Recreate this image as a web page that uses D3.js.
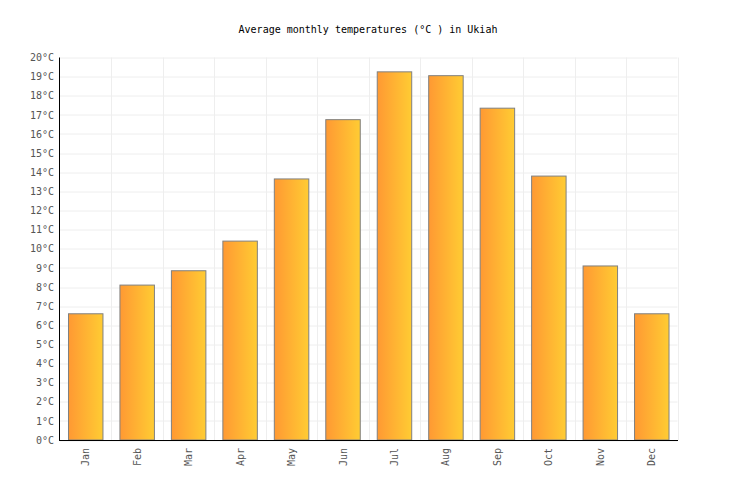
<!DOCTYPE html>
<html>
<head>
<meta charset="utf-8">
<script src="https://cdn.jsdelivr.net/npm/d3@7"></script>
<style>
  body { margin: 0; background: #fff; }
  text { font-family: "DejaVu Sans Mono", monospace; }
</style>
</head>
<body>
<div id="chart"></div>
<script>
// chart data
const months = ["Jan", "Feb", "Mar", "Apr", "May", "Jun", "Jul", "Aug", "Sep", "Oct", "Nov", "Dec"];
const temps = [6.6, 8.1, 8.85, 10.4, 13.65, 16.75, 19.25, 19.05, 17.35, 13.8, 9.1, 6.6];
const yTicks = d3.range(0, 21, 1);
const titleText = "Average monthly temperatures (°C ) in Ukiah";

const width = 736, height = 500;
const margin = { top: 57.5, right: 58.5, bottom: 60, left: 60 };
const innerWidth = width - margin.left - margin.right;
const innerHeight = height - margin.top - margin.bottom;

const svg = d3.select("#chart")
  .append("svg")
    .attr("width", width)
    .attr("height", height);

// gradient for bars
const grad = svg.append("defs")
  .append("linearGradient")
    .attr("id", "barGrad")
    .attr("x1", "0%").attr("x2", "100%")
    .attr("y1", "0%").attr("y2", "0%");
grad.append("stop").attr("offset", "0%").attr("stop-color", "#ff9933");
grad.append("stop").attr("offset", "100%").attr("stop-color", "#ffcc33");

svg.append("text")
  .text(titleText)
  .attr("x", width / 2)
  .attr("y", 33)
  .attr("text-anchor", "middle")
  .attr("font-size", 10)
  .attr("fill", "#000");

const innerChart = svg.append("g")
  .attr("transform", `translate(${margin.left}, ${margin.top})`);

/* scales */
const xScale = d3.scaleBand()
  .domain(months)
  .range([0, innerWidth])
  .paddingInner(0.33)
  .paddingOuter(0.165);

const bandScale = d3.scaleBand()
  .domain(months)
  .range([0, innerWidth]);

const yScale = d3.scaleLinear()
  .domain([0, 20])
  .range([innerHeight, 0]);

/* grid */
innerChart.append("g")
  .selectAll("line.h")
  .data(yTicks)
  .join("line")
    .attr("x1", 0)
    .attr("x2", innerWidth)
    .attr("y1", d => Math.round(yScale(d)) + 0.5)
    .attr("y2", d => Math.round(yScale(d)) + 0.5)
    .attr("stroke", "#eeeeee");

innerChart.append("g")
  .selectAll("line.v")
  .data(months)
  .join("line")
    .attr("x1", d => Math.round(bandScale(d) + bandScale.bandwidth()) + 0.5)
    .attr("x2", d => Math.round(bandScale(d) + bandScale.bandwidth()) + 0.5)
    .attr("y1", 0)
    .attr("y2", innerHeight)
    .attr("stroke", "#eeeeee");

/* bars */
innerChart.selectAll("rect.bar")
  .data(temps)
  .join("rect")
    .attr("class", "bar")
    .attr("x", (d, i) => xScale(months[i]))
    .attr("y", d => yScale(d))
    .attr("width", xScale.bandwidth())
    .attr("height", d => innerHeight - yScale(d))
    .attr("fill", "url(#barGrad)")
    .attr("stroke", "#808080")
    .attr("stroke-width", 1);

/* axes */
const leftAxis = d3.axisLeft(yScale)
  .tickValues(yTicks)
  .tickSize(0)
  .tickPadding(6)
  .tickFormat(d => `${d}°C`);

const yAxisG = innerChart.append("g").call(leftAxis);
yAxisG.select(".domain").remove();
yAxisG.selectAll("text")
  .attr("font-size", 10)
  .attr("font-family", "DejaVu Sans Mono, monospace")
  .attr("fill", "#555");

const bottomAxis = d3.axisBottom(bandScale)
  .tickSize(0)
  .tickPadding(0);

const xAxisG = innerChart.append("g")
  .attr("transform", `translate(0, ${innerHeight})`)
  .call(bottomAxis);
xAxisG.select(".domain").remove();
xAxisG.selectAll("text")
  .attr("font-size", 10)
  .attr("font-family", "DejaVu Sans Mono, monospace")
  .attr("fill", "#555")
  .attr("text-anchor", "end")
  .attr("dy", "0.35em")
  .attr("transform", "translate(0, 8) rotate(-90)");

// axis lines
innerChart.append("line")
  .attr("x1", -0.5).attr("x2", -0.5)
  .attr("y1", 0).attr("y2", innerHeight)
  .attr("stroke", "#000");
innerChart.append("line")
  .attr("x1", -1).attr("x2", innerWidth + 0.5)
  .attr("y1", innerHeight + 0.5).attr("y2", innerHeight + 0.5)
  .attr("stroke", "#000");
</script>
</body>
</html>
